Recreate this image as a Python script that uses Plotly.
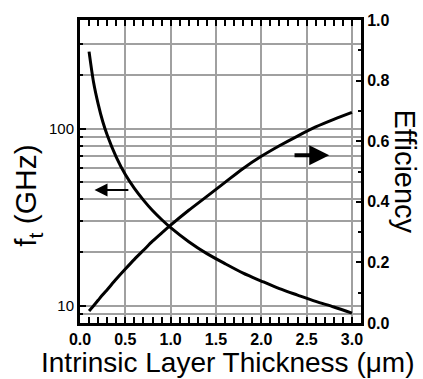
import math
import plotly.graph_objects as go

# Data
thickness = [0.1, 0.15, 0.2, 0.25, 0.3, 0.4, 0.5, 0.6, 0.7, 0.8, 0.9, 1.0,
             1.2, 1.4, 1.6, 1.8, 2.0, 2.2, 2.4, 2.6, 2.8, 3.0]
ft_ghz = [272, 182, 138, 110, 92, 69, 55, 46, 39.5, 34.5, 30.7, 27.6,
          23.0, 19.7, 17.3, 15.3, 13.8, 12.5, 11.5, 10.6, 9.85, 9.1]
efficiency = [0.04, 0.057, 0.075, 0.093, 0.11, 0.145, 0.178, 0.21, 0.24, 0.27, 0.297, 0.323,
              0.372, 0.418, 0.464, 0.51, 0.55, 0.585, 0.617, 0.647, 0.672, 0.695]

x_ticks = [0.0, 0.5, 1.0, 1.5, 2.0, 2.5, 3.0]
x_tick_text = ["0.0", "0.5", "1.0", "1.5", "2.0", "2.5", "3.0"]
ft_major = [10, 100]
ft_minor = [9, 20, 30, 40, 50, 60, 70, 80, 90, 200, 300]
eff_ticks = [0.0, 0.2, 0.4, 0.6, 0.8, 1.0]
eff_tick_text = ["0.0", "0.2", "0.4", "0.6", "0.8", "1.0"]

FONT = "Liberation Sans, Arial, Helvetica, sans-serif"
GRID = "#a0a0a0"

fig = go.Figure()
fig.add_trace(go.Scatter(x=thickness, y=ft_ghz, mode="lines",
                         line=dict(color="black", width=3, shape="spline", smoothing=0.8),
                         yaxis="y", showlegend=False))
fig.add_trace(go.Scatter(x=thickness, y=efficiency, mode="lines",
                         line=dict(color="black", width=3, shape="spline", smoothing=0.8),
                         yaxis="y2", showlegend=False))

tickfont = dict(family=FONT, size=16, color="black", weight="bold")

fig.update_layout(
    width=423, height=379,
    margin=dict(l=80, r=62, t=17, b=56),
    plot_bgcolor="white", paper_bgcolor="white",
    font=dict(family=FONT, color="black"),
    xaxis=dict(
        range=[0, 3.1], tickvals=x_ticks, ticktext=x_tick_text,
        ticks="inside", ticklen=6, tickwidth=2, tickcolor="black",
        showline=True, linewidth=3, linecolor="black", mirror="allticks",
        showgrid=True, gridcolor=GRID, gridwidth=1.5, zeroline=False,
        tickfont=tickfont, ticklabelstandoff=0,
        minor=dict(dtick=0.1, ticks="inside", ticklen=3, tickwidth=1.5, tickcolor="black", showgrid=False),
    ),
    yaxis=dict(
        type="log", range=[math.log10(8), math.log10(410)],
        tickvals=ft_major, ticktext=["10", "100"],
        ticks="inside", ticklen=6, tickwidth=2, tickcolor="black",
        showline=True, linewidth=3, linecolor="black", mirror=False,
        showgrid=True, gridcolor=GRID, gridwidth=2, zeroline=False,
        tickfont=dict(family=FONT, size=15, color="black"),
        minor=dict(tickvals=ft_minor, ticks="inside", ticklen=3, tickwidth=1.5, tickcolor="black",
                   showgrid=True, gridcolor=GRID, gridwidth=1.5),
    ),
    yaxis2=dict(
        overlaying="y", side="right", range=[0, 1],
        tickvals=eff_ticks, ticktext=eff_tick_text,
        ticks="inside", ticklen=5, tickwidth=2, tickcolor="black",
        showline=True, linewidth=3, linecolor="black",
        showgrid=False, zeroline=False, tickfont=tickfont,
        minor=dict(dtick=0.1, ticks="inside", ticklen=3, tickwidth=1.5, tickcolor="black", showgrid=False),
    ),
    annotations=[
        dict(text="Intrinsic Layer Thickness (\u03bcm)", xref="paper", yref="paper",
             x=0.5, y=-0.132, xanchor="center", yanchor="middle", showarrow=False,
             font=dict(family=FONT, size=28, color="black"), xshift=7),
        dict(text="f<sub>t</sub> (GHz)", xref="paper", yref="paper",
             x=0, y=0.42, xanchor="center", yanchor="middle", textangle=-90, showarrow=False,
             font=dict(family=FONT, size=30, color="black"), xshift=-52),
        dict(text="Efficiency", xref="paper", yref="paper",
             x=1, y=0.5, xanchor="center", yanchor="middle", textangle=90, showarrow=False,
             font=dict(family=FONT, size=29, color="black"), xshift=44),
        dict(x=0.16, y=math.log10(45), xref="x", yref="y", ax=0.55, ay=math.log10(45),
             axref="x", ayref="y", showarrow=True, arrowhead=2, arrowsize=1.3, arrowwidth=2,
             arrowcolor="black", text=""),
        dict(x=2.75, y=0.554, xref="x", yref="y2", ax=2.35, ay=0.554,
             axref="x", ayref="y2", showarrow=True, arrowhead=2, arrowsize=1.0, arrowwidth=4,
             arrowcolor="black", text=""),
    ],
)

fig.write_html("out.html", config={"displayModeBar": False},
               post_script="document.body.style.margin='0';")
